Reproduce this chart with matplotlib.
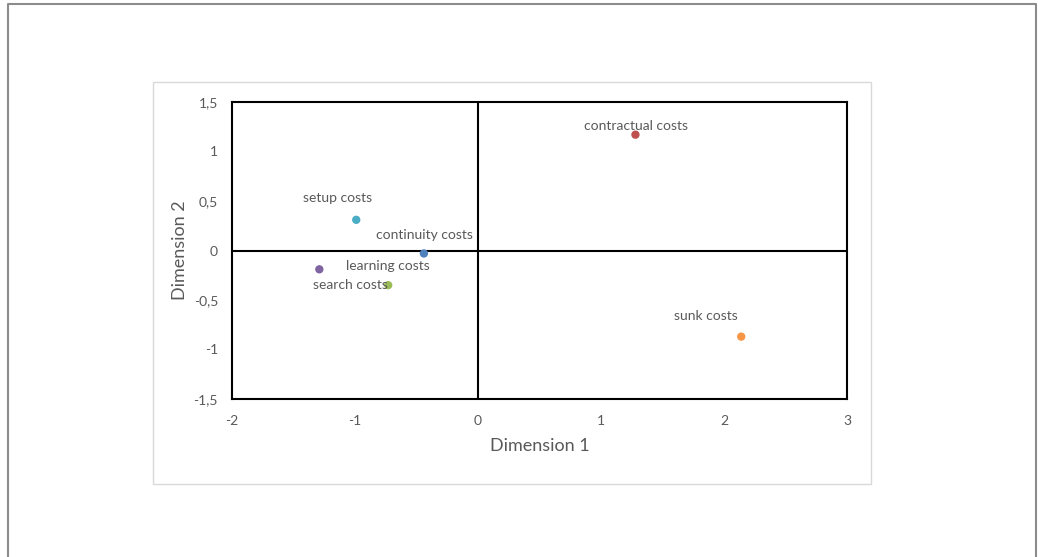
import matplotlib.pyplot as plt
from matplotlib.patches import Rectangle
from matplotlib.ticker import FixedLocator

# data
labels = ["continuity costs", "contractual costs", "learning costs",
          "search costs", "setup costs", "sunk costs"]
dim1 = [-0.44, 1.28, -0.73, -1.29, -0.99, 2.14]
dim2 = [-0.03, 1.17, -0.35, -0.19, 0.31, -0.87]
colors = ["#4F81BD", "#C0504D", "#9BBB59", "#8064A2", "#4BACC6", "#F79646"]
# label offsets in pixels (dx, dy up) relative to each point
label_offsets = [(1, 18), (1, 9), (0, 19), (31, -16), (-19, 22), (-35, 21)]

x_ticks = [-2, -1, 0, 1, 2, 3]
x_ticklabels = ["-2", "-1", "0", "1", "2", "3"]
y_ticks = [-1.5, -1, -0.5, 0, 0.5, 1, 1.5]
y_ticklabels = ["-1,5", "-1", "-0,5", "0", "0,5", "1", "1,5"]

TEXT = "#595959"
plt.rcParams["font.family"] = ["Lato", "DejaVu Sans"]

W, H = 1038, 557
fig = plt.figure(figsize=(W / 100, H / 100), dpi=100)

# outer frame (left, top, right only; runs off the bottom)
fig.add_artist(plt.Line2D([8 / W, 8 / W, 1036 / W, 1036 / W],
                          [0, 1 - 4 / H, 1 - 4 / H, 0],
                          transform=fig.transFigure, color="#8c8c8c", lw=1.5))
# chart area box
fig.add_artist(Rectangle((153 / W, 1 - 484 / H), (871 - 153) / W, (484 - 82) / H,
                         transform=fig.transFigure, fill=False,
                         edgecolor="#d9d9d9", lw=1.0))

ax = fig.add_axes([232 / W, 1 - 399 / H, (847 - 232) / W, (399 - 102) / H])
ax.set_xlim(-2, 3)
ax.set_ylim(-1.5, 1.5)
for sp in ax.spines.values():
    sp.set_color("black")
    sp.set_linewidth(1.5)
ax.axhline(0, color="black", lw=1.5, zorder=1)
ax.axvline(0, color="black", lw=1.5, zorder=1)

ax.xaxis.set_major_locator(FixedLocator(x_ticks))
ax.set_xticklabels(x_ticklabels)
ax.yaxis.set_major_locator(FixedLocator(y_ticks))
ax.set_yticklabels(y_ticklabels)
ax.tick_params(length=0, labelsize=10, labelcolor=TEXT)
ax.tick_params(axis="x", pad=11.5)
ax.tick_params(axis="y", pad=10)

ax.scatter(dim1, dim2, c=colors, s=36, zorder=3, linewidths=0)
for name, x, y, (dx, dy) in zip(labels, dim1, dim2, label_offsets):
    ax.annotate(name, (x, y), xytext=(dx * 0.72, dy * 0.72),
                textcoords="offset points", ha="center", va="center",
                fontsize=10, color=TEXT, zorder=4)

ax.set_xlabel("Dimension 1", fontsize=13, color=TEXT, labelpad=8)
ax.set_ylabel("Dimension 2", fontsize=13, color=TEXT, labelpad=4)

fig.savefig("out.png", dpi=100)
